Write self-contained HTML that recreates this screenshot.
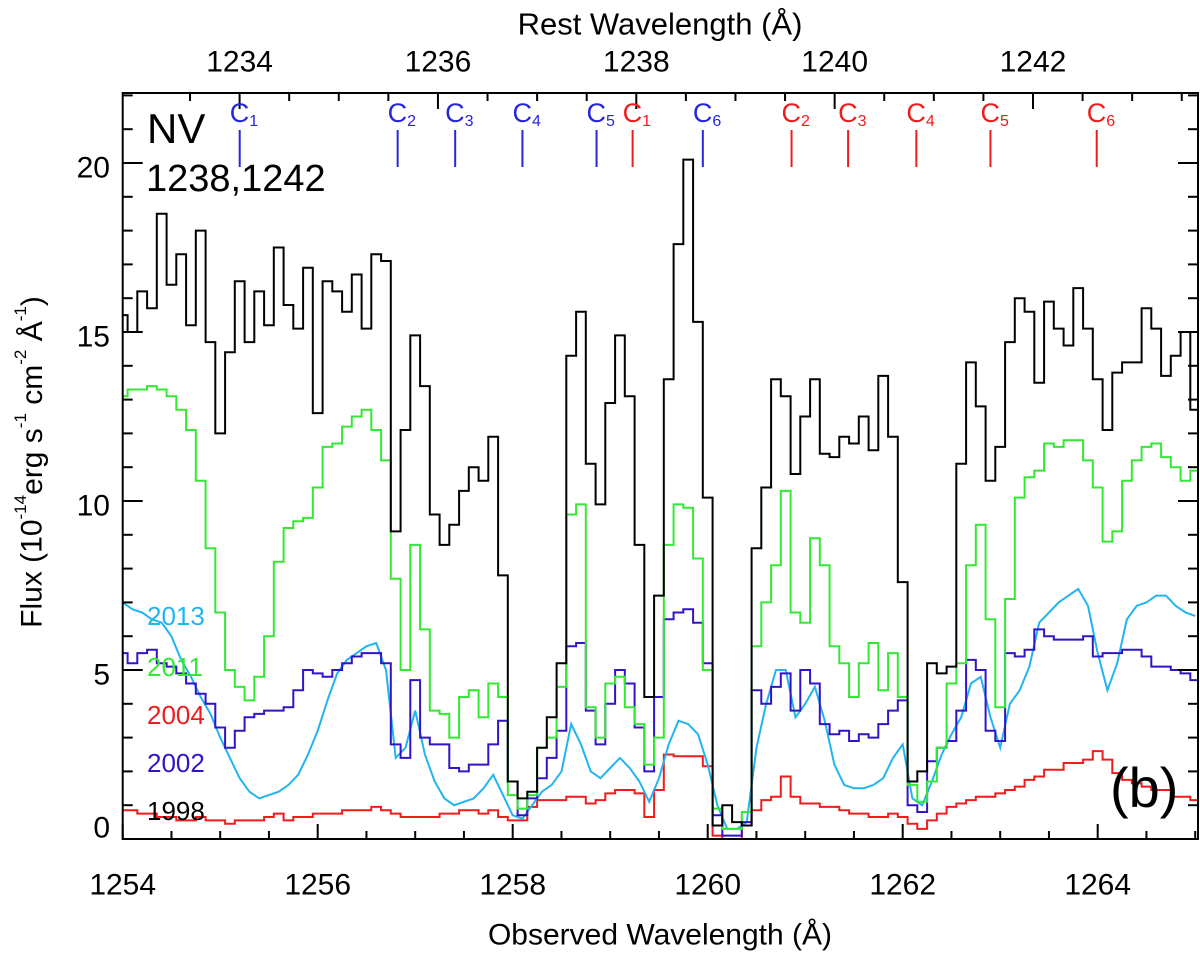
<!DOCTYPE html>
<html><head><meta charset="utf-8"><style>
html,body{margin:0;padding:0;background:#fff;}
svg{display:block;font-family:"Liberation Sans",Arial,sans-serif;}
</style></head><body>
<svg id="chart" width="1200" height="954" viewBox="0 0 1200 954" xmlns="http://www.w3.org/2000/svg">
<defs><clipPath id="plotclip"><rect x="122.7" y="93" width="1075.3" height="746"/></clipPath></defs>
<rect x="0" y="0" width="1200" height="954" fill="#fff"/>
<g id="series" clip-path="url(#plotclip)"></g>
<g id="axes"></g>
<g id="markers"></g>
<text x="147" y="143" font-size="42" fill="#000">NV</text>
<text x="146" y="191" font-size="38" fill="#000">1238,1242</text>
<text x="1110" y="807" font-size="56" fill="#000">(b)</text>
<text x="147" y="616" font-size="26" fill="#22b4f0" dominant-baseline="central">2013</text>
<text x="147" y="667" font-size="26" fill="#33e833" dominant-baseline="central">2011</text>
<text x="147" y="715" font-size="26" fill="#ee1c1c" dominant-baseline="central">2004</text>
<text x="147" y="763" font-size="26" fill="#3214c8" dominant-baseline="central">2002</text>
<text x="147" y="811" font-size="26" fill="#000" dominant-baseline="central">1998</text>
<text x="660" y="24" font-size="31" fill="#000" text-anchor="middle" dominant-baseline="central">Rest Wavelength (Å)</text>
<text x="660" y="935" font-size="30" fill="#000" text-anchor="middle" dominant-baseline="central">Observed Wavelength (Å)</text>
<text transform="translate(32,462) rotate(-90)" font-size="30" fill="#000" text-anchor="middle" dominant-baseline="central">Flux (10<tspan font-size="17" dy="-12">-14</tspan><tspan dy="12">erg s</tspan><tspan font-size="17" dy="-12">-1</tspan><tspan dy="12"> cm</tspan><tspan font-size="17" dy="-12">-2</tspan><tspan dy="12"> Å</tspan><tspan font-size="17" dy="-12">-1</tspan><tspan dy="12">)</tspan></text>
<script>
const waveStart = 1254.0;
const waveStep = 0.1;
const flux1998 = [15.5,15.0,16.2,15.7,18.5,16.4,17.3,15.2,18.0,14.7,12.0,14.4,16.5,14.7,16.2,15.2,17.5,15.8,15.1,16.9,12.6,16.5,16.2,15.6,16.7,15.1,17.3,17.1,9.1,12.1,14.9,13.4,9.6,8.7,9.3,10.3,11.0,10.6,11.9,7.8,1.7,1.2,1.4,2.7,3.6,5.2,14.3,15.6,11.1,9.9,12.9,14.9,13.1,8.7,4.2,7.2,13.6,17.6,20.1,15.3,10.1,0.4,1.0,0.5,0.4,8.6,10.4,13.6,13.1,10.8,12.5,13.6,11.4,11.3,11.9,11.7,12.5,11.5,13.7,11.9,7.6,1.7,2.0,5.2,4.9,5.1,11.1,14.1,12.8,10.6,11.6,14.7,16.0,15.6,13.5,15.9,15.1,14.6,16.3,15.1,13.6,12.1,13.8,14.1,14.1,15.7,15.1,13.7,14.3,15.0,12.7];
const flux2011 = [13.1,13.3,13.3,13.4,13.3,13.1,12.7,12.1,10.6,8.6,6.7,5.0,4.5,4.1,4.8,6.0,8.2,9.2,9.4,9.5,10.4,11.6,11.7,12.2,12.5,12.7,12.1,11.2,7.7,5.0,8.7,6.2,3.8,3.7,3.0,4.2,4.4,3.6,4.6,4.2,1.3,0.9,1.3,2.7,3.0,4.5,9.6,9.9,3.9,3.0,4.6,4.8,3.9,3.4,2.2,3.0,8.7,9.9,9.8,8.3,5.0,0.9,0.3,0.3,0.8,5.7,7.0,8.1,10.3,6.7,6.4,8.9,8.1,5.7,5.2,4.2,5.2,5.8,4.4,5.5,4.2,1.6,1.1,1.7,2.7,4.6,5.2,8.1,9.3,6.5,3.9,7.1,10.1,10.7,10.9,11.7,11.6,11.8,11.8,11.2,10.4,8.8,9.1,10.6,11.2,11.6,11.7,11.3,11.0,10.6,10.9];
const flux2002 = [5.5,5.2,5.5,5.6,5.2,5.1,4.9,4.6,4.3,4.0,3.3,2.7,3.2,3.6,3.7,3.8,3.8,3.9,4.4,5.0,4.9,4.8,5.0,5.2,5.4,5.5,5.5,5.2,2.8,2.4,4.7,3.0,2.8,2.8,2.1,2.0,2.2,2.2,2.8,3.5,1.7,0.7,1.2,1.8,2.4,3.2,5.7,5.8,3.8,2.8,4.0,5.0,4.6,3.3,2.0,4.2,6.5,6.7,6.8,6.4,5.2,0.7,0.1,0.1,0.5,4.4,4.0,4.5,4.9,3.8,5.0,4.6,3.4,3.1,3.2,2.9,3.1,3.0,3.4,3.8,4.1,1.0,0.8,2.3,2.7,2.9,3.8,5.3,5.0,3.2,2.9,5.5,5.4,5.6,6.2,6.0,5.9,5.9,5.9,6.0,5.4,5.5,5.5,5.6,5.6,5.4,5.1,5.1,5.0,4.9,4.7];
const flux2013 = [7.0,6.8,6.7,6.5,6.4,6.0,5.3,4.8,4.2,3.7,3.0,2.4,1.8,1.4,1.2,1.3,1.4,1.6,1.9,2.5,3.2,4.1,4.9,5.3,5.5,5.7,5.8,5.0,2.4,2.7,3.8,2.5,1.7,1.2,1.0,1.1,1.2,1.5,1.9,1.3,0.7,0.6,1.0,1.4,1.6,2.0,3.4,2.8,2.0,1.8,2.1,2.4,2.1,1.7,1.1,1.8,2.8,3.5,3.4,3.1,2.2,1.0,0.3,0.3,0.5,2.7,4.0,5.0,5.0,3.6,4.0,4.5,3.5,2.2,1.6,1.5,1.5,1.6,1.8,2.4,2.8,1.2,1.0,1.7,2.5,3.1,3.6,4.6,4.8,3.6,2.7,4.0,4.4,5.1,6.4,6.7,7.0,7.2,7.4,6.9,5.5,4.4,5.2,6.5,6.9,7.0,7.2,7.2,6.9,6.7,6.6];
const flux2004 = [0.85,0.85,0.75,0.75,0.65,0.65,0.55,0.55,0.65,0.55,0.55,0.45,0.55,0.55,0.55,0.65,0.75,0.55,0.65,0.65,0.75,0.75,0.75,0.85,0.85,0.85,0.95,0.85,0.75,0.65,0.65,0.65,0.65,0.75,0.75,0.85,0.85,0.75,0.85,0.65,0.55,0.55,0.95,1.15,1.15,1.15,1.25,1.25,1.05,1.15,1.35,1.45,1.45,1.35,0.65,1.45,2.5,2.45,2.45,2.45,2.15,0.1,0.0,0.0,0.4,0.85,1.15,1.25,1.85,1.25,1.05,1.05,0.95,0.95,0.85,0.75,0.75,0.65,0.65,0.75,0.65,0.45,0.3,0.55,0.75,0.95,1.05,1.15,1.25,1.25,1.35,1.45,1.55,1.75,1.85,2.05,2.05,2.25,2.25,2.35,2.6,2.35,1.95,1.75,1.65,1.55,1.45,1.45,1.25,1.25,1.15];
const xTicksMajor = [1254,1256,1258,1260,1262,1264];
const yTicksMajor = [0,5,10,15,20];
const restTicksMajor = [1234,1236,1238,1240,1242];
const redshiftFactor = 1.017179;
const blueComponents = [1255.20,1256.82,1257.41,1258.10,1258.86,1259.95];
const redComponents = [1259.23,1260.86,1261.44,1262.14,1262.90,1263.99];

const NS = "http://www.w3.org/2000/svg";
const X0 = 122.7, PXA = 97.5, Y0 = 839, PXU = 33.8;
const L = 122.7, R = 1198, T = 93, B = 839;
function xs(w){ return X0 + (w - 1254) * PXA; }
function ys(v){ return Y0 - v * PXU; }
function mk(tag, attrs, parent){ const e = document.createElementNS(NS, tag); for (const k in attrs) e.setAttribute(k, attrs[k]); parent.appendChild(e); return e; }

const series = document.getElementById('series');
function stepPath(vals){
  let d = "";
  vals.forEach((v, i) => {
    const w = waveStart + i * waveStep;
    const a = xs(w - waveStep/2).toFixed(1), b = xs(w + waveStep/2).toFixed(1), y = ys(v).toFixed(1);
    d += (i === 0 ? "M" : "L") + a + "," + y + "L" + b + "," + y;
  });
  return d;
}
function linePath(vals){
  return vals.map((v, i) => (i === 0 ? "M" : "L") + xs(waveStart + i * waveStep).toFixed(1) + "," + ys(v).toFixed(1)).join("");
}
const p2004 = mk('path', {d: stepPath(flux2004), fill: 'none', stroke: '#ee1c1c', 'stroke-width': 2}, series);


const p2013 = mk('path', {d: linePath(flux2013), fill: 'none', stroke: '#22b4f0', 'stroke-width': 2}, series);


const p2002 = mk('path', {d: stepPath(flux2002), fill: 'none', stroke: '#3214c8', 'stroke-width': 2}, series);


const p2011 = mk('path', {d: stepPath(flux2011), fill: 'none', stroke: '#33e833', 'stroke-width': 2}, series);


const p1998 = mk('path', {d: stepPath(flux1998), fill: 'none', stroke: '#000', 'stroke-width': 2}, series);



const axes = document.getElementById('axes');
const frame = mk('rect', {x: L, y: T, width: R - L, height: B - T, fill: 'none', stroke: '#000', 'stroke-width': 2}, axes);


for (let w = 1254; w <= 1265.001; w += 0.5) {
  const major = Math.abs(w - Math.round(w / 2) * 2) < 1e-6;
  const x = xs(w);
  mk('line', {x1: x, y1: B, x2: x, y2: B - (major ? 15 : 8), stroke: '#000', 'stroke-width': 2}, axes);
}
xTicksMajor.forEach(w => {
  const t = mk('text', {x: xs(w), y: 885, 'font-size': 30, 'text-anchor': 'middle', 'dominant-baseline': 'central'}, axes);
  t.textContent = w;
  
  
});
for (let v = 0; v <= 22; v += 1) {
  const major = v % 5 === 0;
  const y = ys(v);
  mk('line', {x1: L, y1: y, x2: L + (major ? 20 : 10), y2: y, stroke: '#000', 'stroke-width': 2}, axes);
  mk('line', {x1: R, y1: y, x2: R - (major ? 20 : 10), y2: y, stroke: '#000', 'stroke-width': 2}, axes);
}
yTicksMajor.forEach(v => {
  const t = mk('text', {x: 110, y: v === 0 ? 828 : ys(v) + 5, 'font-size': 30, 'text-anchor': 'end', 'dominant-baseline': 'central'}, axes);
  t.textContent = v;
  
  
});
for (let r = 1233.5; r <= 1244; r += 0.5) {
  const x = xs(r * redshiftFactor);
  if (x < L || x > R) continue;
  const major = Math.abs(r - Math.round(r / 2) * 2) < 1e-6;
  mk('line', {x1: x, y1: T, x2: x, y2: T + (major ? 16 : 8), stroke: '#000', 'stroke-width': 2}, axes);
}
restTicksMajor.forEach(r => {
  const t = mk('text', {x: xs(r * redshiftFactor), y: 62, 'font-size': 30, 'text-anchor': 'middle', 'dominant-baseline': 'central'}, axes);
  t.textContent = r;
  
  
});
const markers = document.getElementById('markers');
function drawMarkers(list, color, prefix){
  list.forEach((w, i) => {
    const x = xs(w);
    const ln = mk('line', {x1: x, y1: 130, x2: x, y2: 167, stroke: color, 'stroke-width': 2}, markers);
    
    
    const t = mk('text', {x: x - 10, y: 122, 'font-size': 27, fill: color}, markers);
    
    
    t.textContent = 'C';
    const s = mk('tspan', {'font-size': 16, dy: 4}, t);
    s.textContent = String(i + 1);
  });
}
drawMarkers(blueComponents, '#2626dc', 'nv1238-component');
drawMarkers(redComponents, '#ee1c1c', 'nv1242-component');
</script>
</svg>
</body></html>
